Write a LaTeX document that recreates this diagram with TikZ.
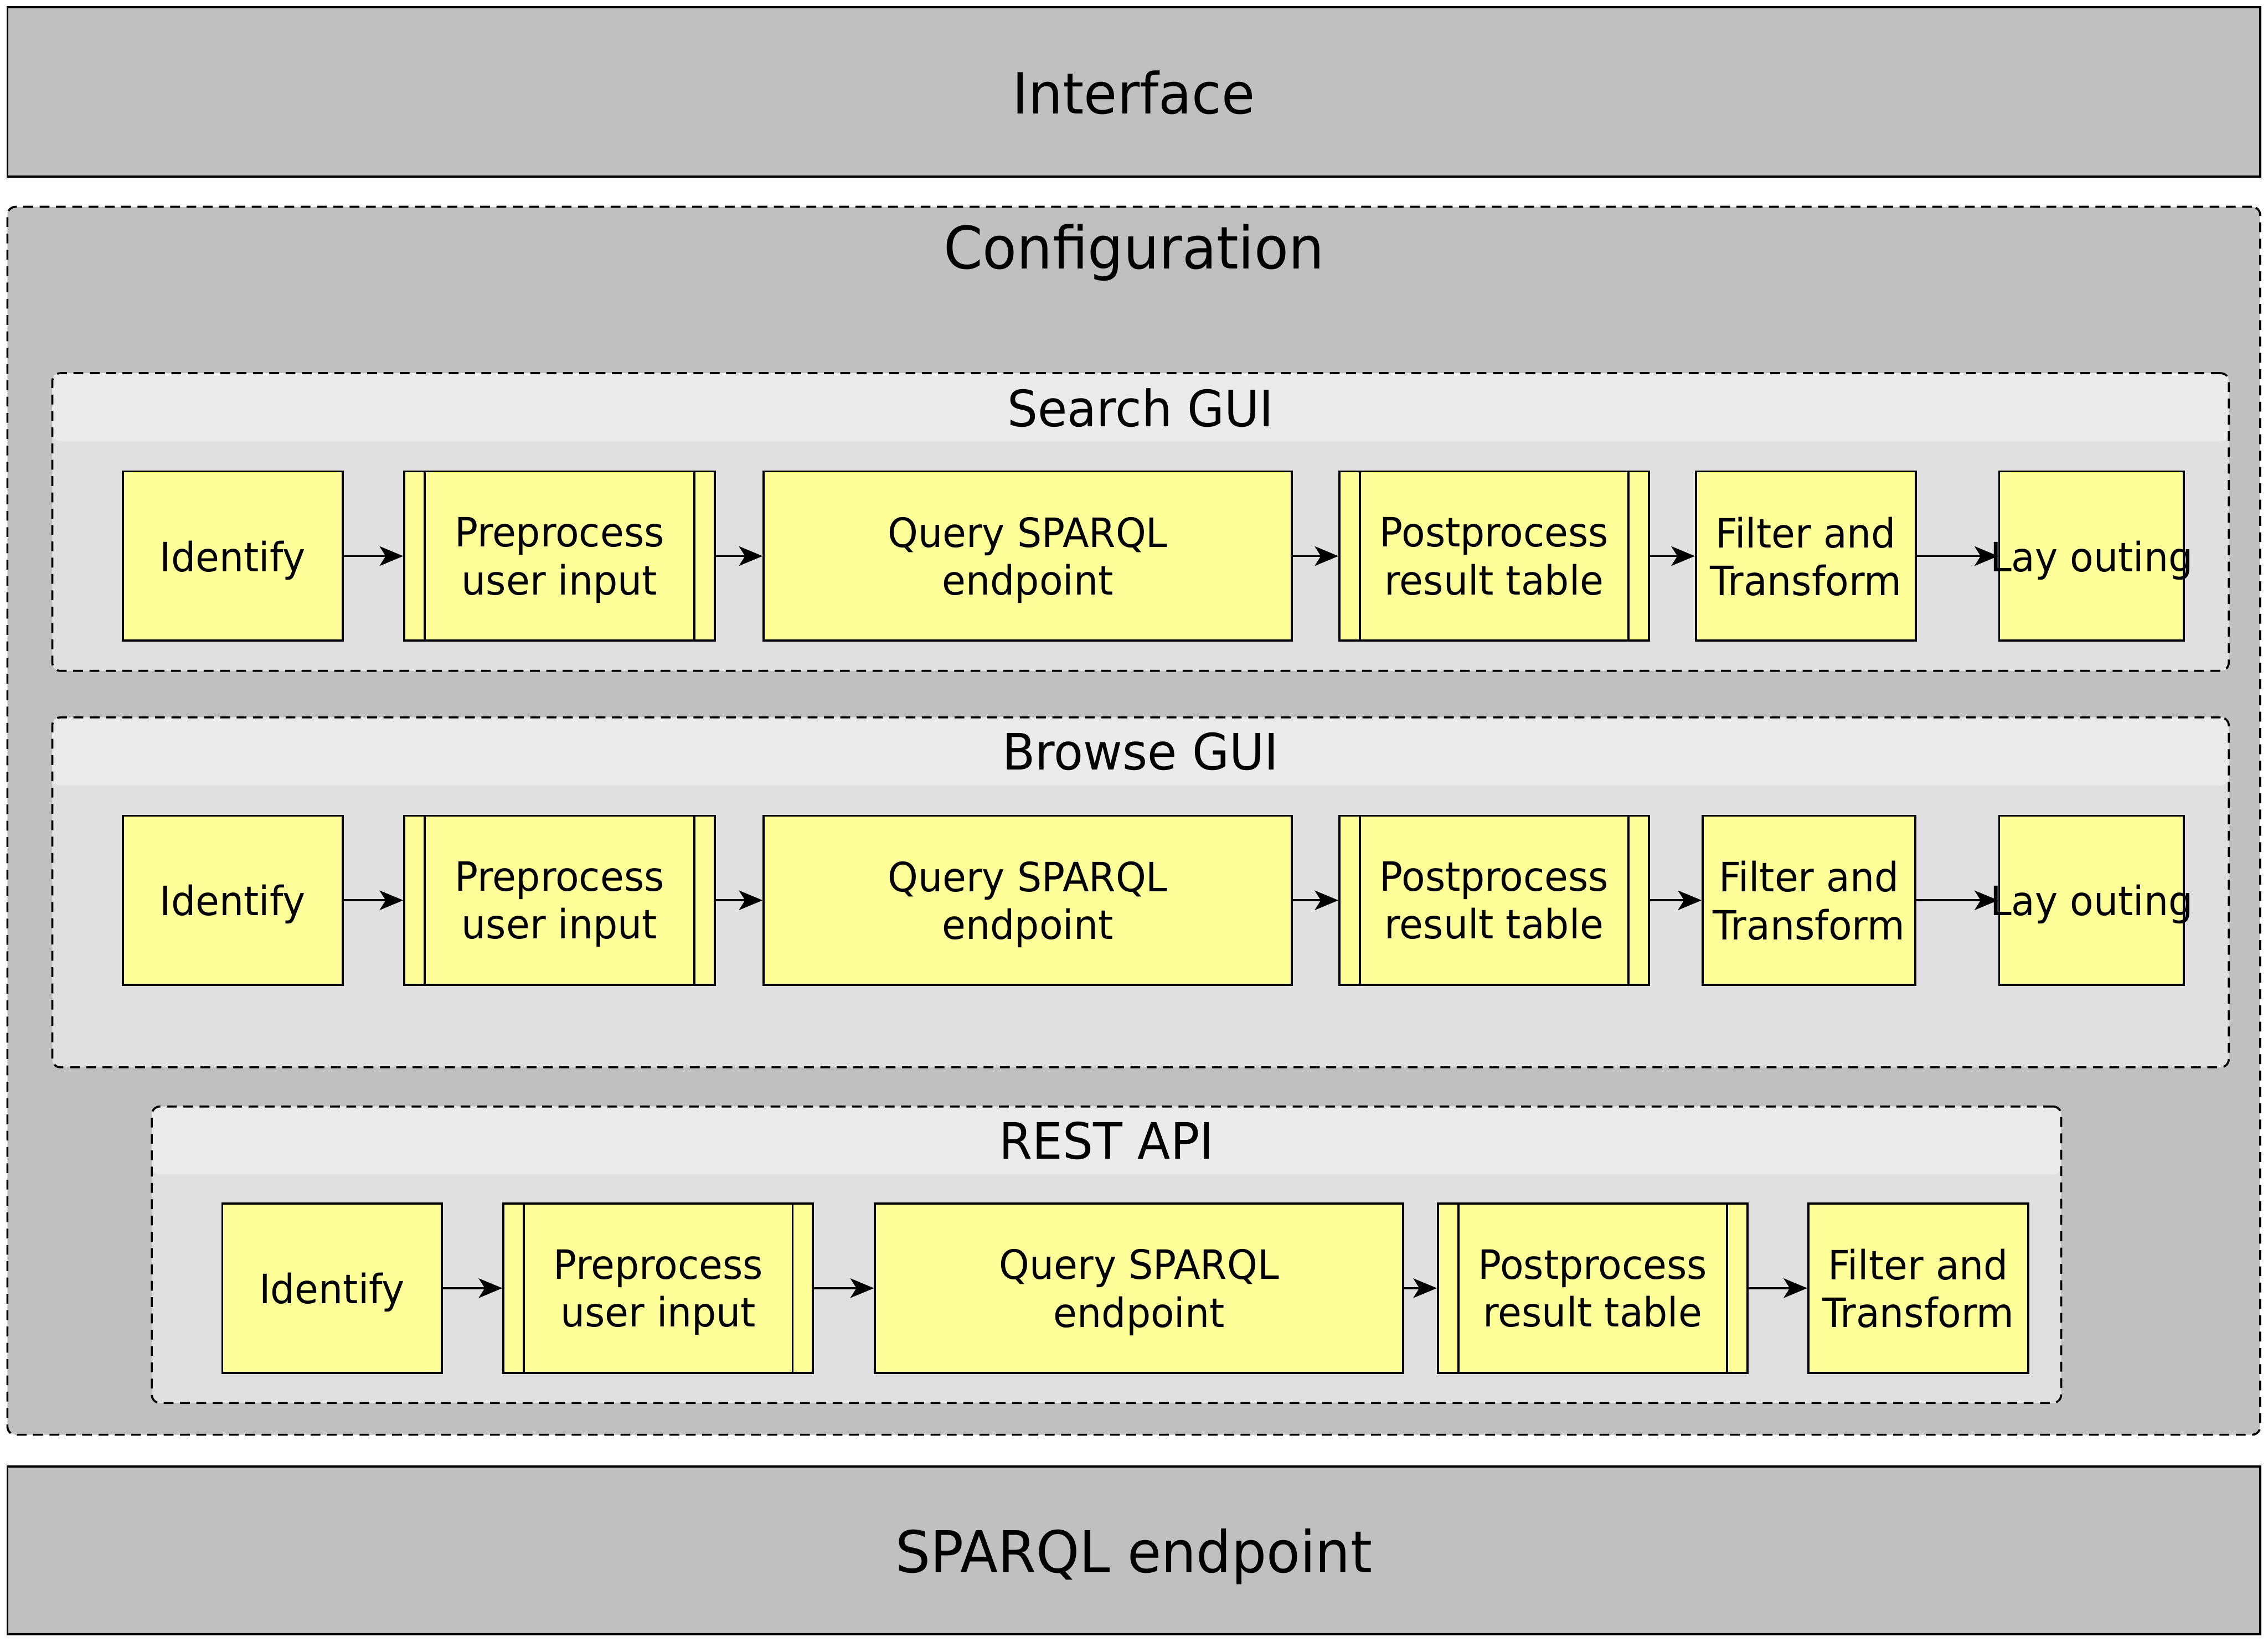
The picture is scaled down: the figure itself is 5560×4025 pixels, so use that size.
\documentclass[tikz,border=0pt]{standalone}
\usepackage{fontspec}
\setmainfont{DejaVu Sans}[FakeStretch=0.955]
\usetikzlibrary{arrows.meta}
\definecolor{layergray}{HTML}{C0C0C0}
\definecolor{hdrgray}{HTML}{EBEBEB}
\definecolor{bodygray}{HTML}{E0E0E0}
\definecolor{boxyellow}{HTML}{FFFF99}
\tikzset{
  layer/.style={draw, fill=layergray, line width=0.5pt, inner sep=0pt, minimum width=552.3pt,
    font=\fontsize{13.9pt}{16pt}\selectfont, text depth=0pt},
  dashbox/.style={draw, line width=0.5pt, dash pattern=on 2.4pt off 1.6pt, rounded corners=2pt, inner sep=0pt},
  grp/.style={dashbox, fill=bodygray,
    path picture={\fill[hdrgray] (path picture bounding box.north west) rectangle ([yshift=-16.65pt]path picture bounding box.north east);}},
  bigttl/.style={font=\fontsize{14.4pt}{16pt}\selectfont, text depth=0pt, inner sep=0pt},
  grpttl/.style={font=\fontsize{12.3pt}{15pt}\selectfont, text depth=0pt, inner sep=0pt},
  proc/.style={draw, fill=boxyellow, line width=0.5pt, inner sep=0pt, minimum height=41.5pt, align=center,
    font=\fontsize{9.9pt}{11.7pt}\selectfont, text depth=0pt},
  dbar/.style={proc, path picture={\draw[line width=0.5pt]
    ([xshift=5pt]path picture bounding box.north west) -- ([xshift=5pt]path picture bounding box.south west)
    ([xshift=-5pt]path picture bounding box.north east) -- ([xshift=-5pt]path picture bounding box.south east);}},
  proclbl/.style={font=\fontsize{9.9pt}{11.7pt}\selectfont, text depth=0pt, inner sep=0pt},
  arr/.style={-{Stealth[length=5.8pt,width=4.8pt,inset=1.5pt]}, line width=0.5pt}
}
\begin{document}
\begin{tikzpicture}[x=0.1pt, y=-0.1pt]
\useasboundingbox (0,0) rectangle (5560,4025);

% layers
\node[layer, minimum height=41.5pt] (iface) at (2779.5,225.5) {Interface};
\node[dashbox, fill=layergray, minimum width=552.3pt, minimum height=301.1pt] (config) at (2779.5,2012.5) {};
\node[bigttl] (configttl) at (2779.5,604) {Configuration};
\node[layer, minimum height=41.1pt, font=\fontsize{14.15pt}{16pt}\selectfont] (sparql) at (2779.5,3801.5) {SPARQL endpoint};

% groups
\node[grp, minimum width=533.6pt, minimum height=73pt] (gs) at (2796,1280) {};
\node[grpttl] (gsttl) at (2796,998.5) {Search GUI};
\node[grp, minimum width=533.6pt, minimum height=85.8pt] (gb) at (2796,2188) {};
\node[grpttl] (gbttl) at (2796,1842) {Browse GUI};
\node[grp, minimum width=468.1pt, minimum height=72.7pt] (gr) at (2712.5,3076.5) {};
\node[grpttl] (grttl) at (2712.5,2796) {REST API};

% Search GUI row
\node[proc, minimum width=53.9pt] (s1) at (570.5,1363.5) {Identify};
\node[dbar, minimum width=76.1pt] (s2) at (1371.5,1363.5) {Preprocess\\user input};
\node[proc, minimum width=129.5pt] (s3) at (2519.5,1363.5) {Query SPARQL\\endpoint};
\node[dbar, minimum width=75.9pt] (s4) at (3663,1363.5) {Postprocess\\result table};
\node[proc, minimum width=53.9pt] (s5) at (4427,1363.5) {Filter and\\Transform};
\node[proc, minimum width=45.3pt] (s6) at (5127.5,1363.5) {};
\node[proclbl] (s6t) at (5127.5,1363.5) {Lay outing};
\draw[arr] (s1.east) -- (s2.west);
\draw[arr] (s2.east) -- (s3.west);
\draw[arr] (s3.east) -- (s4.west);
\draw[arr] (s4.east) -- (s5.west);
\draw[arr] (s5.east) -- (s6.west);

% Browse GUI row
\node[proc, minimum width=53.9pt] (b1) at (570.5,2207.5) {Identify};
\node[dbar, minimum width=76.1pt] (b2) at (1371.5,2207.5) {Preprocess\\user input};
\node[proc, minimum width=129.5pt] (b3) at (2519.5,2207.5) {Query SPARQL\\endpoint};
\node[dbar, minimum width=75.9pt] (b4) at (3663,2207.5) {Postprocess\\result table};
\node[proc, minimum width=52.1pt] (b5) at (4434.5,2207.5) {Filter and\\Transform};
\node[proc, minimum width=45.3pt] (b6) at (5127.5,2207.5) {};
\node[proclbl] (b6t) at (5127.5,2207.5) {Lay outing};
\draw[arr] (b1.east) -- (b2.west);
\draw[arr] (b2.east) -- (b3.west);
\draw[arr] (b3.east) -- (b4.west);
\draw[arr] (b4.east) -- (b5.west);
\draw[arr] (b5.east) -- (b6.west);

% REST API row
\node[proc, minimum width=53.8pt] (r1) at (814,3158.5) {Identify};
\node[dbar, minimum width=75.9pt] (r2) at (1613.5,3158.5) {Preprocess\\user input};
\node[proc, minimum width=129.5pt] (r3) at (2792.5,3158.5) {Query SPARQL\\endpoint};
\node[dbar, minimum width=75.9pt] (r4) at (3904.5,3158.5) {Postprocess\\result table};
\node[proc, minimum width=53.9pt] (r5) at (4702.5,3158.5) {Filter and\\Transform};
\draw[arr] (r1.east) -- (r2.west);
\draw[arr] (r2.east) -- (r3.west);
\draw[arr] (r3.east) -- (r4.west);
\draw[arr] (r4.east) -- (r5.west);
\end{tikzpicture}
\end{document}
